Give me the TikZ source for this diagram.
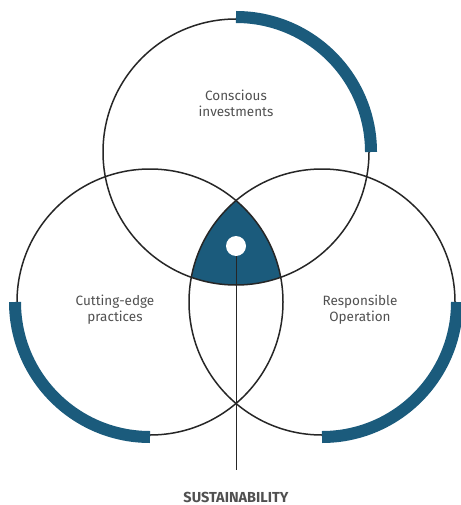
\documentclass[tikz,border=0pt]{standalone}
\usepackage{fontspec}
\setmainfont{Fira Sans}
\usepackage{tikz}

\definecolor{venteal}{HTML}{1B5B7C}
\definecolor{labgray}{HTML}{505050}

\tikzset{
  ring/.style={draw=black!85, line width=1.5pt},
  band/.style={draw=venteal, line width=12pt, line cap=butt},
  lab/.style={text=labgray, font=\fontsize{13.5}{16}\selectfont, align=center}
}

\begin{document}
\begin{tikzpicture}[x=1pt,y=-1pt]

\useasboundingbox (0,0) rectangle (460,505);

\coordinate (ct) at (236,152);
\coordinate (cl) at (150,302);
\coordinate (cr) at (322,302);

% common part of the three circles
\begin{scope}
\clip (ct) circle (133);
\clip (cl) circle (133);
\fill[venteal] (cr) circle (133);
\end{scope}

\draw[ring] (ct) circle (133);
\draw[ring] (cl) circle (133);
\draw[ring] (cr) circle (133);

% thick outer arcs (y axis points down, so angles run clockwise)
\draw[band] ([shift={(-90:135)}]ct) arc[start angle=-90, end angle=0, radius=135];
\draw[band] ([shift={(180:135)}]cl) arc[start angle=180, end angle=90, radius=135];
\draw[band] ([shift={(0:135)}]cr) arc[start angle=0, end angle=90, radius=135];

\node[lab] (ci) at (236,103) {Conscious\\investments};
\node[lab] (cp) at (115,310) {Cutting-edge\\practices};
\node[lab] (ro) at (360,310) {Responsible\\Operation};

\node[circle, fill=white, inner sep=0pt, minimum size=20pt] (dot) at (236,246) {};
\coordinate (linebot) at (236,470);
\draw[line width=0.9pt, black!85] (dot) -- (linebot);

\node[text=labgray, font=\bfseries\fontsize{14.5}{17}\selectfont] (sus) at (236,497) {SUSTAINABILITY};

\end{tikzpicture}
\end{document}
